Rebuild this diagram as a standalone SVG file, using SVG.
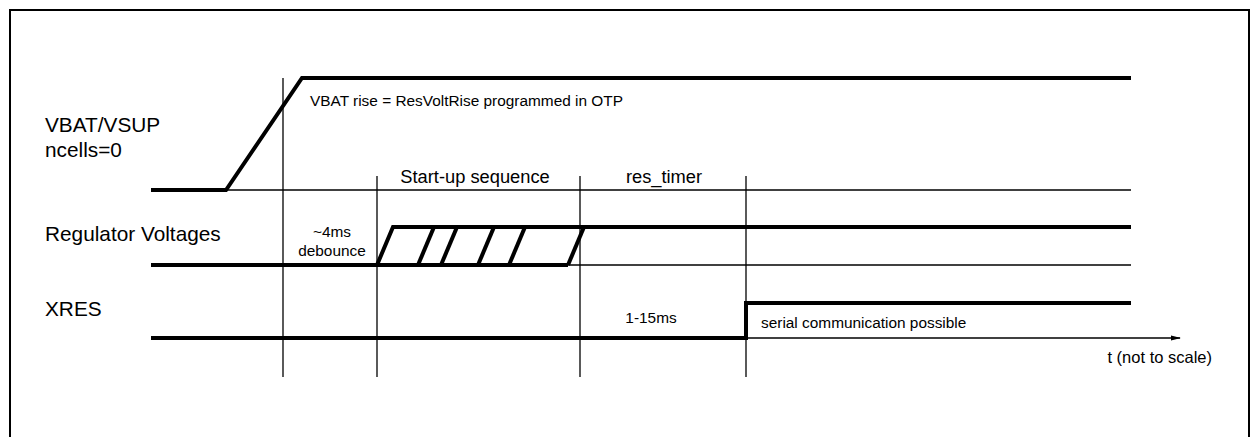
<svg xmlns="http://www.w3.org/2000/svg" width="1252" height="437" viewBox="0 0 1252 437">
<style>
text{font-family:"Liberation Sans",Arial,sans-serif;fill:#000}
.lbl{font-size:20.8px}
.mid{font-size:18.3px}
.sm{font-size:15.4px}
.thick{stroke:#000;stroke-width:4;fill:none;stroke-linejoin:miter;stroke-linecap:butt}
.thin{stroke:#000;stroke-width:1.3;fill:none}
</style>
<defs>
<marker id="arr" markerWidth="10" markerHeight="8" refX="9" refY="4" orient="auto" markerUnits="userSpaceOnUse">
<path d="M0,1.5 L10,4 L0,6.5 Z" fill="#000"/>
</marker>
</defs>
<rect x="0" y="0" width="1252" height="437" fill="#fff"/>
<rect id="frame" x="10" y="10" width="1239" height="440" fill="none" stroke="#000" stroke-width="2"/>
<g id="grid">
<line class="thin" x1="283" y1="78" x2="283" y2="377"/>
<line class="thin" x1="377" y1="176" x2="377" y2="377"/>
<line class="thin" x1="580" y1="176" x2="580" y2="377"/>
<line class="thin" x1="746" y1="176" x2="746" y2="377"/>
<line class="thin" x1="226" y1="190" x2="1131" y2="190"/>
<line class="thin" x1="377" y1="265" x2="1131" y2="265"/>
</g>
<g id="vbat">
<text class="lbl" x="45" y="132">VBAT/VSUP</text>
<text class="lbl" x="45" y="157">ncells=0</text>
<polyline class="thick" points="151,190 226,190 302,78 1131,78"/>
<text class="sm" x="310" y="106">VBAT rise = ResVoltRise programmed in OTP</text>
</g>
<g id="reg">
<text class="lbl" x="45" y="241">Regulator Voltages</text>
<polyline class="thick" points="151,265 377,265 393,227 1131,227"/>
<line class="thick" x1="377" y1="265" x2="568" y2="265"/>
<line class="thick" x1="418" y1="265" x2="434" y2="227"/>
<line class="thick" x1="441" y1="265" x2="457" y2="227"/>
<line class="thick" x1="478" y1="265" x2="494" y2="227"/>
<line class="thick" x1="509" y1="265" x2="525" y2="227"/>
<line class="thick" x1="568" y1="265" x2="584" y2="227"/>
</g>
<g id="xres">
<text class="lbl" x="45" y="316">XRES</text>
<polyline class="thick" points="151,338 746,338 746,303 1131,303"/>
</g>
<g id="connectors">
<line class="thin" x1="746" y1="338" x2="1180" y2="338" marker-end="url(#arr)"/>
</g>
<g id="labels">
<text class="mid" x="475" y="183" text-anchor="middle">Start-up sequence</text>
<text class="mid" x="664" y="183" text-anchor="middle">res_timer</text>
<text class="sm" x="332" y="237" text-anchor="middle">~4ms</text>
<text class="sm" x="332" y="256" text-anchor="middle">debounce</text>
<text class="sm" x="651" y="323" text-anchor="middle">1-15ms</text>
<text class="sm" x="761" y="328">serial communication possible</text>
<text class="sm" x="1212" y="363" text-anchor="end" style="font-size:16.5px">t (not to scale)</text>
</g>
</svg>
